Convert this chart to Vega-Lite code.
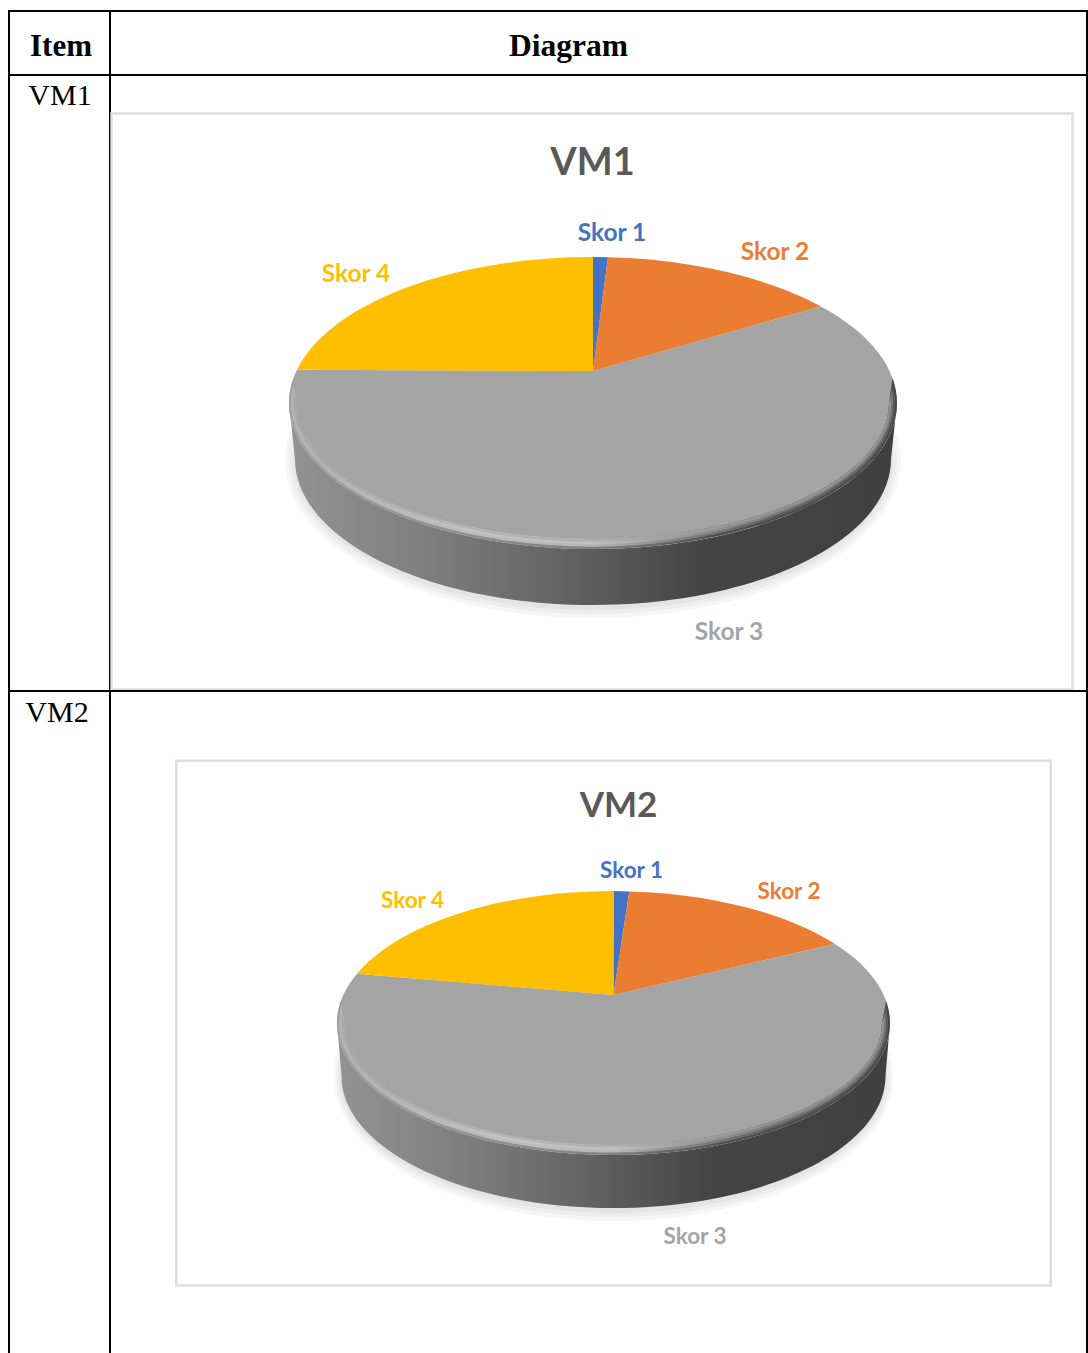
{"$schema":"https://vega.github.io/schema/vega-lite/v6.json","background":"white","padding":{"left":8,"top":10,"right":1,"bottom":0},"columns":2,"spacing":0,"bounds":"flush","align":"each","resolve":{"scale":{"shape":"independent"}},"config":{"range":{"category":["#4472c4","#ea7d31","#a4a4a4","#fdbf00"]}},"datasets":{"slices":[{"chart":"VM1","skor":"Skor 1","value":1},{"chart":"VM1","skor":"Skor 2","value":14},{"chart":"VM1","skor":"Skor 3","value":62},{"chart":"VM1","skor":"Skor 4","value":23},{"chart":"VM2","skor":"Skor 1","value":1},{"chart":"VM2","skor":"Skor 2","value":15},{"chart":"VM2","skor":"Skor 3","value":63},{"chart":"VM2","skor":"Skor 4","value":21}]},"concat":[
{"width":101,"height":64,"view":{"stroke":"#000","strokeWidth":2},"data":{"values":[{"label":"Item"}]},"mark":{"type":"text","font":"Liberation Serif","fontSize":31,"fontWeight":"bold","color":"#000","dx":1.5,"dy":3.5},"encoding":{"text":{"field":"label"}}},
{"width":977,"height":64,"view":{"stroke":"#000","strokeWidth":2},"data":{"values":[{"label":"Diagram"}]},"mark":{"type":"text","font":"Liberation Serif","fontSize":31.5,"fontWeight":"bold","color":"#000","dx":-30,"dy":3.5},"encoding":{"text":{"field":"label"}}},
{"width":101,"height":616,"view":{"stroke":"#000","strokeWidth":2},"data":{"values":[{"label":"VM1"}]},"mark":{"type":"text","font":"Liberation Serif","fontSize":30,"color":"#000","dx":0.5,"dy":-287},"encoding":{"text":{"field":"label"}}},
{"width":977,"height":616,"view":{"stroke":"#000","strokeWidth":2},"data":{"name":"slices"},"transform":[{"filter":"datum.chart=='VM1'"}],"layer":[
{"transform":[{"filter":"datum.skor=='Skor 3'"}],"mark":{"type":"point","size":4,"filled":false,"opacity":1,"stroke":"#dedede","strokeWidth":2.5,"shape":"M-487,-269.5 L474,-269.5 L474,306.5 L-487,306.5 Z"},"encoding":{}},
{"transform":[{"filter":"datum.skor=='Skor 3'"}],"mark":{"type":"point","size":4,"filled":true,"stroke":null,"fill":"#000","opacity":0.035,"shape":"M-313.5,77 A308,158 0 1 0 302.5,77 A308,158 0 1 0 -313.5,77 Z"},"encoding":{}},
{"transform":[{"filter":"datum.skor=='Skor 3'"}],"mark":{"type":"point","size":4,"filled":true,"stroke":null,"fill":"#000","opacity":0.035,"shape":"M-309.5,77 A304,154 0 1 0 298.5,77 A304,154 0 1 0 -309.5,77 Z"},"encoding":{}},
{"transform":[{"filter":"datum.skor=='Skor 3'"}],"mark":{"type":"point","size":4,"filled":true,"stroke":null,"fill":"#000","opacity":0.035,"shape":"M-305.5,77 A300,150 0 1 0 294.5,77 A300,150 0 1 0 -305.5,77 Z"},"encoding":{}},
{"transform":[{"filter":"datum.skor=='Skor 3'"}],"mark":{"type":"point","size":4,"filled":true,"stroke":null,"opacity":1,"fill":{"gradient":"linear","x1":0,"y1":0,"x2":1,"y2":0,"stops":[{"offset":0,"color":"#939393"},{"offset":0.25,"color":"#7c7c7c"},{"offset":0.5,"color":"#5c5c5c"},{"offset":0.68,"color":"#444444"},{"offset":1,"color":"#404040"}]},"shape":"M-309.5,20 L-303.5,76 A298,146 0 0 0 292.5,76 L298.5,20 A304,146 0 0 1 -309.5,20 Z"},"encoding":{}},
{"mark":{"type":"point","size":4,"filled":true,"stroke":null,"opacity":1},"encoding":{"color":{"field":"skor","type":"nominal","legend":null},"shape":{"field":"skor","type":"nominal","legend":null,"scale":{"domain":["Skor 1","Skor 2","Skor 3","Skor 4"],"range":["M-5.5,-12 L-5.5,-126 A304,146 0 0 1 9.5,-125.8 Z","M-5.5,-12 L9.5,-125.8 A304,146 0 0 1 222.5,-76.6 Z","M-5.5,-12 L222.5,-76.6 A304,146 0 1 1 -301.5,-13.3 Z","M-5.5,-12 L-301.5,-13.3 A304,146 0 0 1 -5.5,-126 Z"]}},"tooltip":{"field":"value","type":"quantitative"}}},
{"transform":[{"filter":"datum.skor=='Skor 3'"}],"mark":{"type":"point","size":4,"filled":true,"stroke":null,"opacity":1,"fill":{"gradient":"linear","x1":0,"y1":0,"x2":1,"y2":0,"stops":[{"offset":0,"color":"#a0a0a0"},{"offset":0.3,"color":"#8e8e8e"},{"offset":0.5,"color":"#808080"},{"offset":0.7,"color":"#505050"},{"offset":1,"color":"#484848"}]},"shape":"M-305,-5 A304,146 0 1 0 294,-5 L290.5,20 A296,136 0 0 1 -301.5,20 Z"},"encoding":{}},
{"transform":[{"filter":"datum.skor=='Skor 3'"}],"mark":{"type":"point","size":4,"filled":true,"stroke":null,"opacity":1,"fill":{"gradient":"linear","x1":0,"y1":0,"x2":1,"y2":0,"stops":[{"offset":0,"color":"#b4b4b4"},{"offset":0.3,"color":"#bcbcbc"},{"offset":0.5,"color":"#b8b8b8"},{"offset":0.65,"color":"#808080"},{"offset":0.8,"color":"#5e5e5e"},{"offset":1,"color":"#5c5c5c"}]},"shape":"M-304.8,1 A302,143.5 0 1 0 293.8,1 L290.5,20 A296,136 0 0 1 -301.5,20 Z"},"encoding":{}},
{"transform":[{"filter":"datum.skor=='Skor 3'"}],"mark":{"type":"point","size":4,"filled":true,"stroke":null,"opacity":1,"fill":{"gradient":"linear","x1":0,"y1":0,"x2":1,"y2":0,"stops":[{"offset":0,"color":"#adadad"},{"offset":0.3,"color":"#c4c4c4"},{"offset":0.5,"color":"#c0c0c0"},{"offset":0.65,"color":"#999999"},{"offset":0.8,"color":"#7c7c7c"},{"offset":1,"color":"#787878"}]},"shape":"M-304.4,8 A300,141 0 1 0 293.4,8 L290.5,20 A296,136 0 0 1 -301.5,20 Z"},"encoding":{}},
{"transform":[{"filter":"datum.skor=='Skor 3'"}],"mark":{"type":"point","size":4,"filled":true,"stroke":null,"opacity":1,"fill":{"gradient":"linear","x1":0,"y1":0,"x2":1,"y2":0,"stops":[{"offset":0,"color":"#a6a6a6"},{"offset":0.3,"color":"#b4b4b4"},{"offset":0.5,"color":"#b0b0b0"},{"offset":0.65,"color":"#a0a0a0"},{"offset":0.8,"color":"#949494"},{"offset":1,"color":"#929292"}]},"shape":"M-303.2,14 A298,138.5 0 1 0 292.2,14 L290.5,20 A296,136 0 0 1 -301.5,20 Z"},"encoding":{}},
{"transform":[{"filter":"datum.skor=='Skor 1'"}],"mark":{"type":"text","font":"Lato","fontWeight":"bold","fontSize":24.5,"dx":13.5,"dy":-149.5},"encoding":{"text":{"field":"skor"},"color":{"field":"skor","type":"nominal","legend":null}}},
{"transform":[{"filter":"datum.skor=='Skor 2'"}],"mark":{"type":"text","font":"Lato","fontWeight":"bold","fontSize":24.5,"dx":176.5,"dy":-130.5},"encoding":{"text":{"field":"skor"},"color":{"field":"skor","type":"nominal","legend":null}}},
{"transform":[{"filter":"datum.skor=='Skor 3'"}],"mark":{"type":"text","font":"Lato","fontWeight":"bold","fontSize":24.5,"dx":130.5,"dy":249.5},"encoding":{"text":{"field":"skor"},"color":{"field":"skor","type":"nominal","legend":null}}},
{"transform":[{"filter":"datum.skor=='Skor 4'"}],"mark":{"type":"text","font":"Lato","fontWeight":"bold","fontSize":24.5,"dx":-242.5,"dy":-108.5},"encoding":{"text":{"field":"skor"},"color":{"field":"skor","type":"nominal","legend":null}}},
{"transform":[{"filter":"datum.skor=='Skor 1'"}],"mark":{"type":"text","font":"Lato","fontWeight":"bold","fontSize":38,"color":"#595959","dx":-6,"dy":-219.5},"encoding":{"text":{"field":"chart"}}}
]},
{"width":101,"height":666,"view":{"stroke":"#000","strokeWidth":2},"data":{"values":[{"label":"VM2"}]},"mark":{"type":"text","font":"Liberation Serif","fontSize":30,"color":"#000","dx":-2.5,"dy":-311},"encoding":{"text":{"field":"label"}}},
{"width":977,"height":666,"view":{"stroke":"#000","strokeWidth":2},"data":{"name":"slices"},"transform":[{"filter":"datum.chart=='VM2'"}],"layer":[
{"transform":[{"filter":"datum.skor=='Skor 3'"}],"mark":{"type":"point","size":4,"filled":false,"opacity":1,"stroke":"#dedede","strokeWidth":2.5,"shape":"M-422.2,-263.3 L452.2,-263.3 L452.2,261.5 L-422.2,261.5 Z"},"encoding":{}},
{"transform":[{"filter":"datum.skor=='Skor 3'"}],"mark":{"type":"point","size":4,"filled":true,"stroke":null,"fill":"#000","opacity":0.035,"shape":"M-265,53 A280,144 0 1 0 295,53 A280,144 0 1 0 -265,53 Z"},"encoding":{}},
{"transform":[{"filter":"datum.skor=='Skor 3'"}],"mark":{"type":"point","size":4,"filled":true,"stroke":null,"fill":"#000","opacity":0.035,"shape":"M-262,53 A277,140 0 1 0 292,53 A277,140 0 1 0 -262,53 Z"},"encoding":{}},
{"transform":[{"filter":"datum.skor=='Skor 3'"}],"mark":{"type":"point","size":4,"filled":true,"stroke":null,"fill":"#000","opacity":0.035,"shape":"M-259,53 A274,136 0 1 0 289,53 A274,136 0 1 0 -259,53 Z"},"encoding":{}},
{"transform":[{"filter":"datum.skor=='Skor 3'"}],"mark":{"type":"point","size":4,"filled":true,"stroke":null,"opacity":1,"fill":{"gradient":"linear","x1":0,"y1":0,"x2":1,"y2":0,"stops":[{"offset":0,"color":"#939393"},{"offset":0.25,"color":"#7c7c7c"},{"offset":0.5,"color":"#5c5c5c"},{"offset":0.68,"color":"#444444"},{"offset":1,"color":"#404040"}]},"shape":"M-261.5,-1 L-257,52 A272,132 0 0 0 287,52 L291.5,-1 A276.5,132 0 0 1 -261.5,-1 Z"},"encoding":{}},
{"mark":{"type":"point","size":4,"filled":true,"stroke":null,"opacity":1},"encoding":{"color":{"field":"skor","type":"nominal","legend":null},"shape":{"field":"skor","type":"nominal","legend":null,"scale":{"domain":["Skor 1","Skor 2","Skor 3","Skor 4"],"range":["M15,-29 L15,-133 A276.5,132 0 0 1 30.8,-132.6 Z","M15,-29 L30.8,-132.6 A276.5,132 0 0 1 236.5,-80 Z","M15,-29 L236.5,-80 A276.5,132 0 1 1 -241.5,-50.3 Z","M15,-29 L-241.5,-50.3 A276.5,132 0 0 1 15,-133 Z"]}},"tooltip":{"field":"value","type":"quantitative"}}},
{"transform":[{"filter":"datum.skor=='Skor 3'"}],"mark":{"type":"point","size":4,"filled":true,"stroke":null,"opacity":1,"fill":{"gradient":"linear","x1":0,"y1":0,"x2":1,"y2":0,"stops":[{"offset":0,"color":"#a0a0a0"},{"offset":0.3,"color":"#8e8e8e"},{"offset":0.5,"color":"#808080"},{"offset":0.7,"color":"#505050"},{"offset":1,"color":"#484848"}]},"shape":"M-257.6,-23 A276.5,132 0 1 0 287.6,-23 L283.5,-1 A268.5,122 0 0 1 -253.5,-1 Z"},"encoding":{}},
{"transform":[{"filter":"datum.skor=='Skor 3'"}],"mark":{"type":"point","size":4,"filled":true,"stroke":null,"opacity":1,"fill":{"gradient":"linear","x1":0,"y1":0,"x2":1,"y2":0,"stops":[{"offset":0,"color":"#b4b4b4"},{"offset":0.3,"color":"#bcbcbc"},{"offset":0.5,"color":"#b8b8b8"},{"offset":0.65,"color":"#808080"},{"offset":0.8,"color":"#5e5e5e"},{"offset":1,"color":"#5c5c5c"}]},"shape":"M-257.1,-18 A274.5,129.5 0 1 0 287.1,-18 L283.5,-1 A268.5,122 0 0 1 -253.5,-1 Z"},"encoding":{}},
{"transform":[{"filter":"datum.skor=='Skor 3'"}],"mark":{"type":"point","size":4,"filled":true,"stroke":null,"opacity":1,"fill":{"gradient":"linear","x1":0,"y1":0,"x2":1,"y2":0,"stops":[{"offset":0,"color":"#adadad"},{"offset":0.3,"color":"#c4c4c4"},{"offset":0.5,"color":"#c0c0c0"},{"offset":0.65,"color":"#999999"},{"offset":0.8,"color":"#7c7c7c"},{"offset":1,"color":"#787878"}]},"shape":"M-256.5,-12 A272.5,127 0 1 0 286.5,-12 L283.5,-1 A268.5,122 0 0 1 -253.5,-1 Z"},"encoding":{}},
{"transform":[{"filter":"datum.skor=='Skor 3'"}],"mark":{"type":"point","size":4,"filled":true,"stroke":null,"opacity":1,"fill":{"gradient":"linear","x1":0,"y1":0,"x2":1,"y2":0,"stops":[{"offset":0,"color":"#a6a6a6"},{"offset":0.3,"color":"#b4b4b4"},{"offset":0.5,"color":"#b0b0b0"},{"offset":0.65,"color":"#a0a0a0"},{"offset":0.8,"color":"#949494"},{"offset":1,"color":"#929292"}]},"shape":"M-255.3,-6 A270.5,124.5 0 1 0 285.3,-6 L283.5,-1 A268.5,122 0 0 1 -253.5,-1 Z"},"encoding":{}},
{"transform":[{"filter":"datum.skor=='Skor 1'"}],"mark":{"type":"text","font":"Lato","fontWeight":"bold","fontSize":22.5,"dx":33,"dy":-153.5},"encoding":{"text":{"field":"skor"},"color":{"field":"skor","type":"nominal","legend":null}}},
{"transform":[{"filter":"datum.skor=='Skor 2'"}],"mark":{"type":"text","font":"Lato","fontWeight":"bold","fontSize":22.5,"dx":190.5,"dy":-132.5},"encoding":{"text":{"field":"skor"},"color":{"field":"skor","type":"nominal","legend":null}}},
{"transform":[{"filter":"datum.skor=='Skor 3'"}],"mark":{"type":"text","font":"Lato","fontWeight":"bold","fontSize":22.5,"dx":96.5,"dy":212.5},"encoding":{"text":{"field":"skor"},"color":{"field":"skor","type":"nominal","legend":null}}},
{"transform":[{"filter":"datum.skor=='Skor 4'"}],"mark":{"type":"text","font":"Lato","fontWeight":"bold","fontSize":22.5,"dx":-186,"dy":-123.5},"encoding":{"text":{"field":"skor"},"color":{"field":"skor","type":"nominal","legend":null}}},
{"transform":[{"filter":"datum.skor=='Skor 1'"}],"mark":{"type":"text","font":"Lato","fontWeight":"bold","fontSize":35,"color":"#595959","dx":20,"dy":-218},"encoding":{"text":{"field":"chart"}}}
]}
]}
